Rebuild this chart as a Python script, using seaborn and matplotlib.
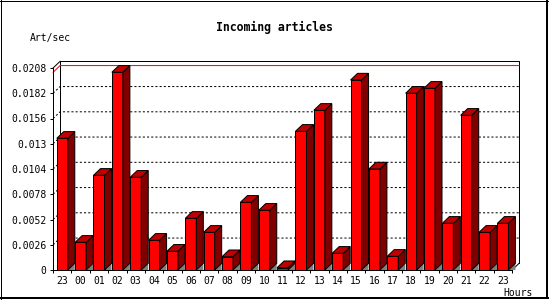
import numpy as np
import pandas as pd
import matplotlib
matplotlib.use("Agg")
import matplotlib.pyplot as plt
import seaborn as sns
from matplotlib.patches import Polygon
from matplotlib.lines import Line2D

# ---- data ----
hour_labels = ["23", "00", "01", "02", "03", "04", "05", "06", "07", "08", "09", "10",
               "11", "12", "13", "14", "15", "16", "17", "18", "19", "20", "21", "22", "23"]
values = [0.01356, 0.00285, 0.00975, 0.02036, 0.00955, 0.00306, 0.00193, 0.00532,
          0.00388, 0.00137, 0.00697, 0.00615, 0.00024, 0.01428, 0.01644, 0.00172,
          0.01956, 0.01040, 0.00141, 0.01820, 0.01871, 0.00481, 0.01593, 0.00388, 0.00481]
ytick_values = [0, 0.0026, 0.0052, 0.0078, 0.0104, 0.013, 0.0156, 0.0182, 0.0208]
ytick_labels = ["0", "0.0026", "0.0052", "0.0078", "0.0104", "0.013", "0.0156", "0.0182", "0.0208"]
title_text = "Incoming articles"
y_title = "Art/sec"
x_title = "Hours"

# ---- figure layout (pixels) ----
W, H = 550, 300
AX_L, AX_R, AX_B, AX_T = 53.1, 512.1, 270.0, 68.0   # pixel coords from top-left
plt.rcParams["font.family"] = ["DejaVu Sans Mono"]

fig = plt.figure(figsize=(W / 100, H / 100), dpi=100)
fig.patch.set_facecolor("white")
ax = fig.add_axes([AX_L / W, (H - AX_B) / H, (AX_R - AX_L) / W, (AX_B - AX_T) / H])
ax.set_facecolor("none")

df = pd.DataFrame({"slot": np.arange(len(values)), "rate": values})
sns.barplot(data=df, x="slot", y="rate", color="#FF0000", saturation=1, width=0.6,
            edgecolor="black", linewidth=0.72, errorbar=None, ax=ax, zorder=3)

ymax = ytick_values[-1]
ax.set_xlim(-0.5, len(values) - 0.5)
ax.set_ylim(0, ymax)

# 3D depth in data units
px_x = (len(values)) / (AX_R - AX_L)
px_y = ymax / (AX_B - AX_T)
DX = 7.0 * px_x
DY = 6.7 * px_y

x_l, x_r = -0.5, len(values) - 0.5

for p in list(ax.patches):
    x0, w, h = p.get_x(), p.get_width(), p.get_height()
    x1 = x0 + w
    shadow = Polygon([(x1, 0), (x1 + DX, DY), (x1 + DX, 0)], closed=True,
                     facecolor="#808080", edgecolor="none", zorder=2.9, clip_on=False)
    side = Polygon([(x1, 0), (x1 + DX, DY), (x1 + DX, h + DY), (x1, h)], closed=True,
                   facecolor="#800000", edgecolor="black", linewidth=0.72, zorder=3, clip_on=False)
    top = Polygon([(x0, h), (x0 + DX, h + DY), (x1 + DX, h + DY), (x1, h)], closed=True,
                  facecolor="#C00000", edgecolor="black", linewidth=0.72, zorder=3, clip_on=False)
    for a in (shadow, side, top):
        ax.add_patch(a)

# back plane frame
ax.plot([x_l + DX, x_l + DX, x_r + DX, x_r + DX], [DY, ymax + DY, ymax + DY, DY],
        color="black", lw=0.72, zorder=1, clip_on=False)
ax.plot([x_l, x_l + DX], [ymax, ymax + DY], color="black", lw=0.72, zorder=1, clip_on=False)
ax.plot([x_r, x_r + DX], [0, DY], color="black", lw=0.72, zorder=1, clip_on=False)

# dotted grid lines
for v in ytick_values[1:-1]:
    ax.plot([x_l, x_l + DX, x_r + DX], [v, v + DY, v + DY], color="black", lw=0.72,
            linestyle=(0, (2.1, 2.1)), zorder=1, clip_on=False)

# max line (red)
vmax = max(values)
ax.plot([x_l, x_l + DX, x_r + DX], [vmax, vmax + DY, vmax + DY], color="#FF0000", lw=0.72,
        zorder=1.5, clip_on=False)

# axes styling
for s in ("top", "right"):
    ax.spines[s].set_visible(False)
for s in ("left", "bottom"):
    ax.spines[s].set_color("black")
    ax.spines[s].set_linewidth(0.72)

ax.set_yticks(ytick_values, ytick_labels)
ax.set_xticks(np.arange(len(values)), hour_labels)
ax.set_xticks(np.arange(len(values) + 1) - 0.5, minor=True)
ax.tick_params(axis="y", length=2.2, width=0.72, pad=2.5, labelsize=7, colors="black")
ax.tick_params(axis="x", which="major", length=0, pad=4.5, labelsize=7, colors="black")
ax.tick_params(axis="x", which="minor", length=2.2, width=0.72)
ax.set_xlabel("")
ax.set_ylabel("")

# texts
fig.text(274 / W, 1 - 27 / H, title_text, ha="center", va="center", fontsize=8.3,
         fontweight="bold", color="black")
fig.text(30 / W, 1 - 37.5 / H, y_title, ha="left", va="center", fontsize=7, color="black")
fig.text(518.5 / W, 1 - 292.5 / H, x_title, ha="center", va="center", fontsize=7, color="black")

# outer frame
fig.add_artist(Line2D([0.5 / W, 0.5 / W], [0, 1], transform=fig.transFigure, color="black", lw=0.72))
fig.add_artist(Line2D([0, 548 / W], [1 - 0.5 / H, 1 - 0.5 / H], transform=fig.transFigure, color="black", lw=0.72))
fig.add_artist(Line2D([547 / W, 547 / W], [1, 1 - 298 / H], transform=fig.transFigure, color="black", lw=1.44))
fig.add_artist(Line2D([0, 548 / W], [1 - 297.5 / H, 1 - 297.5 / H], transform=fig.transFigure, color="black", lw=1.44))

fig.savefig("out.png", dpi=100, facecolor="white")
